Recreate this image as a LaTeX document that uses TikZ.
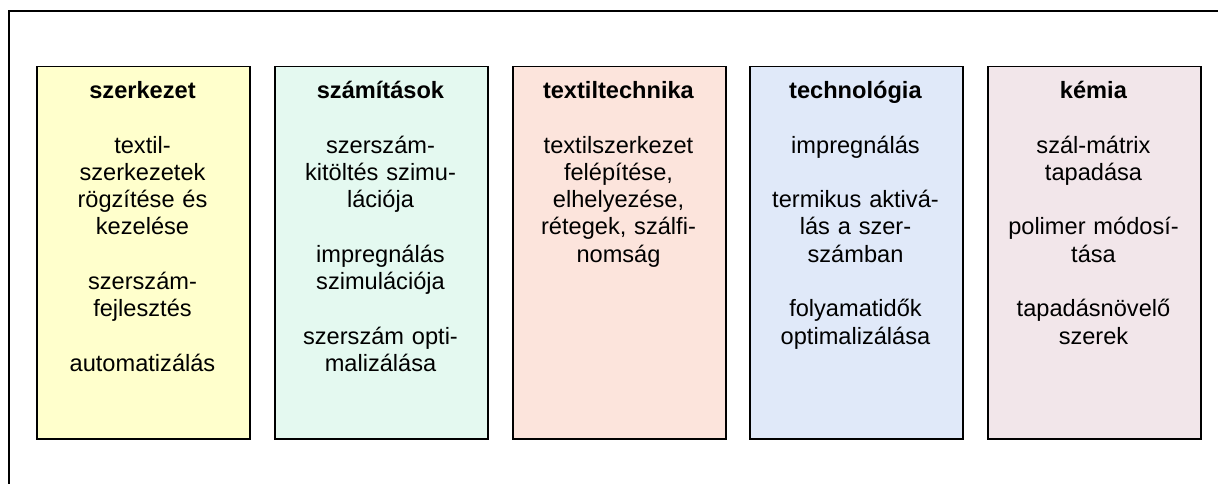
\documentclass[tikz,border=0pt]{standalone}
\usepackage{fontspec}
\setmainfont{Liberation Sans}
\definecolor{cYellow}{HTML}{FFFFCC}
\definecolor{cGreen}{HTML}{E4F9F0}
\definecolor{cPink}{HTML}{FCE4DC}
\definecolor{cBlue}{HTML}{E0E9F9}
\definecolor{cMauve}{HTML}{F2E6EA}
\begin{document}
\begin{tikzpicture}[x=1pt,y=-1pt,
  colbox/.style={draw=black, line width=1.5pt, minimum width=213pt, minimum height=372pt, anchor=north west, inner sep=0pt},
  coltext/.style={text width=208pt, align=center, anchor=base, inner sep=0pt, font=\fontsize{23.6}{27.3}\selectfont}]
\useasboundingbox (0,0) rectangle (1218,484);
\coordinate (fTop) at (1218,11);
\coordinate (fCorner) at (9,11);
\coordinate (fBottom) at (9,484);
\draw[line width=1.5pt] (fTop) -- (fCorner) -- (fBottom);

\node[colbox, fill=cYellow] (b1) at (36,66) {};
\node[colbox, fill=cGreen]  (b2) at (274,66) {};
\node[colbox, fill=cPink]   (b3) at (512,66) {};
\node[colbox, fill=cBlue]   (b4) at (749,66) {};
\node[colbox, fill=cMauve]  (b5) at (987,66) {};

\node[coltext] (t1) at (142.5,98.5) {\textbf{szerkezet}\\[27.3pt]
  textil-\\szerkezetek\\rögzítése és\\kezelése\\[27.3pt]
  szerszám-\\fejlesztés\\[27.3pt]
  automatizálás};
\node[coltext] (t2) at (380.5,98.5) {\textbf{számítások}\\[27.3pt]
  szerszám-\\kitöltés szimu-\\lációja\\[27.3pt]
  impregnálás\\szimulációja\\[27.3pt]
  szerszám opti-\\malizálása};
\node[coltext] (t3) at (618.5,98.5) {\textbf{textiltechnika}\\[27.3pt]
  textilszerkezet\\felépítése,\\elhelyezése,\\rétegek, szálfi-\\nomság};
\node[coltext] (t4) at (855.5,98.5) {\textbf{technológia}\\[27.3pt]
  impregnálás\\[27.3pt]
  termikus aktivá-\\lás a szer-\\számban\\[27.3pt]
  folyamatidők\\optimalizálása};
\node[coltext] (t5) at (1093.5,98.5) {\textbf{kémia}\\[27.3pt]
  szál-mátrix\\tapadása\\[27.3pt]
  polimer módosí-\\tása\\[27.3pt]
  tapadásnövelő\\szerek};
\end{tikzpicture}
\end{document}
